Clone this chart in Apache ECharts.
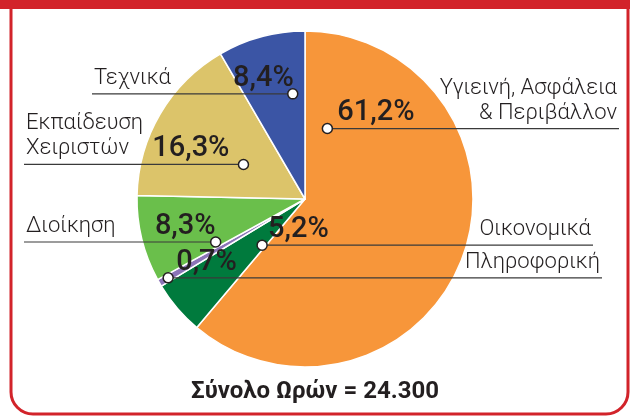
<!DOCTYPE html>
<html><head><meta charset="utf-8">
<script src="https://cdn.jsdelivr.net/npm/echarts@6/dist/echarts.min.js"></script>
<style>html,body{margin:0;padding:0;background:#fff}#c{width:630px;height:416px}</style>
</head><body><div id="c"></div>
<script>
const categories = ['Υγιεινή, Ασφάλεια\n& Περιβάλλον', 'Οικονομικά', 'Πληροφορική', 'Διοίκηση', 'Εκπαίδευση\nΧειριστών', 'Τεχνικά'];
const values = [61.2, 5.2, 0.7, 8.3, 16.3, 8.4];
const percentLabels = ['61,2%', '5,2%', '0,7%', '8,3%', '16,3%', '8,4%'];
const totalLabel = 'Σύνολο Ωρών = 24.300';
const colors = ['#f7963a', '#007a3d', '#8c74b8', '#6abf4b', '#dcc46a', '#3b55a5'];

// label layout (styling only): marker position within each slice, leader direction, line end
const markerAngleFrac = [0.08, 0.15, 0.5, 0.1, 0.48, 0.78];
const markerRadiusFrac = [0.44, 0.375, 0.94, 0.59, 0.42, 0.63];
const labelSide = ['right', 'right', 'right', 'left', 'left', 'left'];
const lineEndX = [619, 593, 602, 24, 24, 92];
const pctAlign = ['left', 'left', 'left', 'right', 'right', 'right'];
const pctOffset = [10, 6, 8, 0, -14, 1];

const chart = echarts.init(document.getElementById('c'), null, {renderer: 'canvas'});
const PIE_CENTER = [305, 199], PIE_R = 168;
const PCT_FONT = {fontFamily: 'Roboto', fontWeight: 500, fontSize: 29, fill: '#231f20'};
chart.setOption({
  animation: false,
  backgroundColor: '#ffffff',
  title: {
    text: totalLabel, left: 'center', top: 375,
    textStyle: {fontFamily: 'Roboto', fontWeight: 'bold', fontSize: 24, color: '#231f20'}
  },
  series: [{
    type: 'pie', center: PIE_CENTER, radius: PIE_R, startAngle: 90, clockwise: true,
    silent: true, label: {show: false}, labelLine: {show: false},
    itemStyle: {borderColor: '#ffffff', borderWidth: 1.5},
    data: categories.map((c, i) => ({name: c, value: values[i], itemStyle: {color: colors[i]}}))
  }]
});

const total = values.reduce((a, b) => a + b, 0);
const sdata = chart.getModel().getSeriesByIndex(0).getData();
const g = [];
// frame
g.push({type: 'rect', shape: {x: 0, y: 0, width: 630, height: 9}, style: {fill: '#d2232a'}, z: 200, silent: true});
g.push({type: 'rect', shape: {x: 11, y: 4, width: 617, height: 410, r: [0, 0, 22, 22]}, style: {fill: null, stroke: '#d2232a', lineWidth: 3}, z: 199, silent: true});
let acc = 0;
values.forEach((v, i) => {
  let a0, a1, cx = PIE_CENTER[0], cy = PIE_CENTER[1], r = PIE_R;
  const lay = sdata.getItemLayout(i);
  if (lay && lay.startAngle != null) {
    a0 = lay.startAngle; a1 = lay.endAngle; cx = lay.cx; cy = lay.cy; r = lay.r;
  } else {
    a0 = -Math.PI / 2 + acc / total * 2 * Math.PI;
    a1 = -Math.PI / 2 + (acc + v) / total * 2 * Math.PI;
  }
  acc += v;
  const a = a0 + (a1 - a0) * markerAngleFrac[i];
  const rr = r * markerRadiusFrac[i];
  const px = cx + rr * Math.cos(a), py = cy + rr * Math.sin(a);
  g.push({type: 'line', shape: {x1: px, y1: py, x2: lineEndX[i], y2: py}, style: {stroke: '#3a3a3a', lineWidth: 1.2}, z: 150, silent: true});
  g.push({type: 'circle', shape: {cx: px, cy: py, r: 5}, style: {fill: '#ffffff', stroke: '#231f20', lineWidth: 1.5}, z: 160, silent: true});
  g.push({type: 'text', x: px + pctOffset[i], y: py - 1, z: 170, silent: true,
    style: Object.assign({text: percentLabels[i], textAlign: pctAlign[i], textVerticalAlign: 'bottom'}, PCT_FONT)});
  const right = labelSide[i] === 'right';
  g.push({type: 'text', x: right ? lineEndX[i] - 2 : lineEndX[i] + 2, y: py - 3, z: 170, silent: true,
    style: {text: categories[i], textAlign: right ? 'right' : 'left', textVerticalAlign: 'bottom',
      fontFamily: 'Roboto', fontWeight: 300, fontSize: 22, lineHeight: 25, fill: '#231f20'}});
});
chart.setOption({graphic: {elements: g}});
</script>
</body></html>
